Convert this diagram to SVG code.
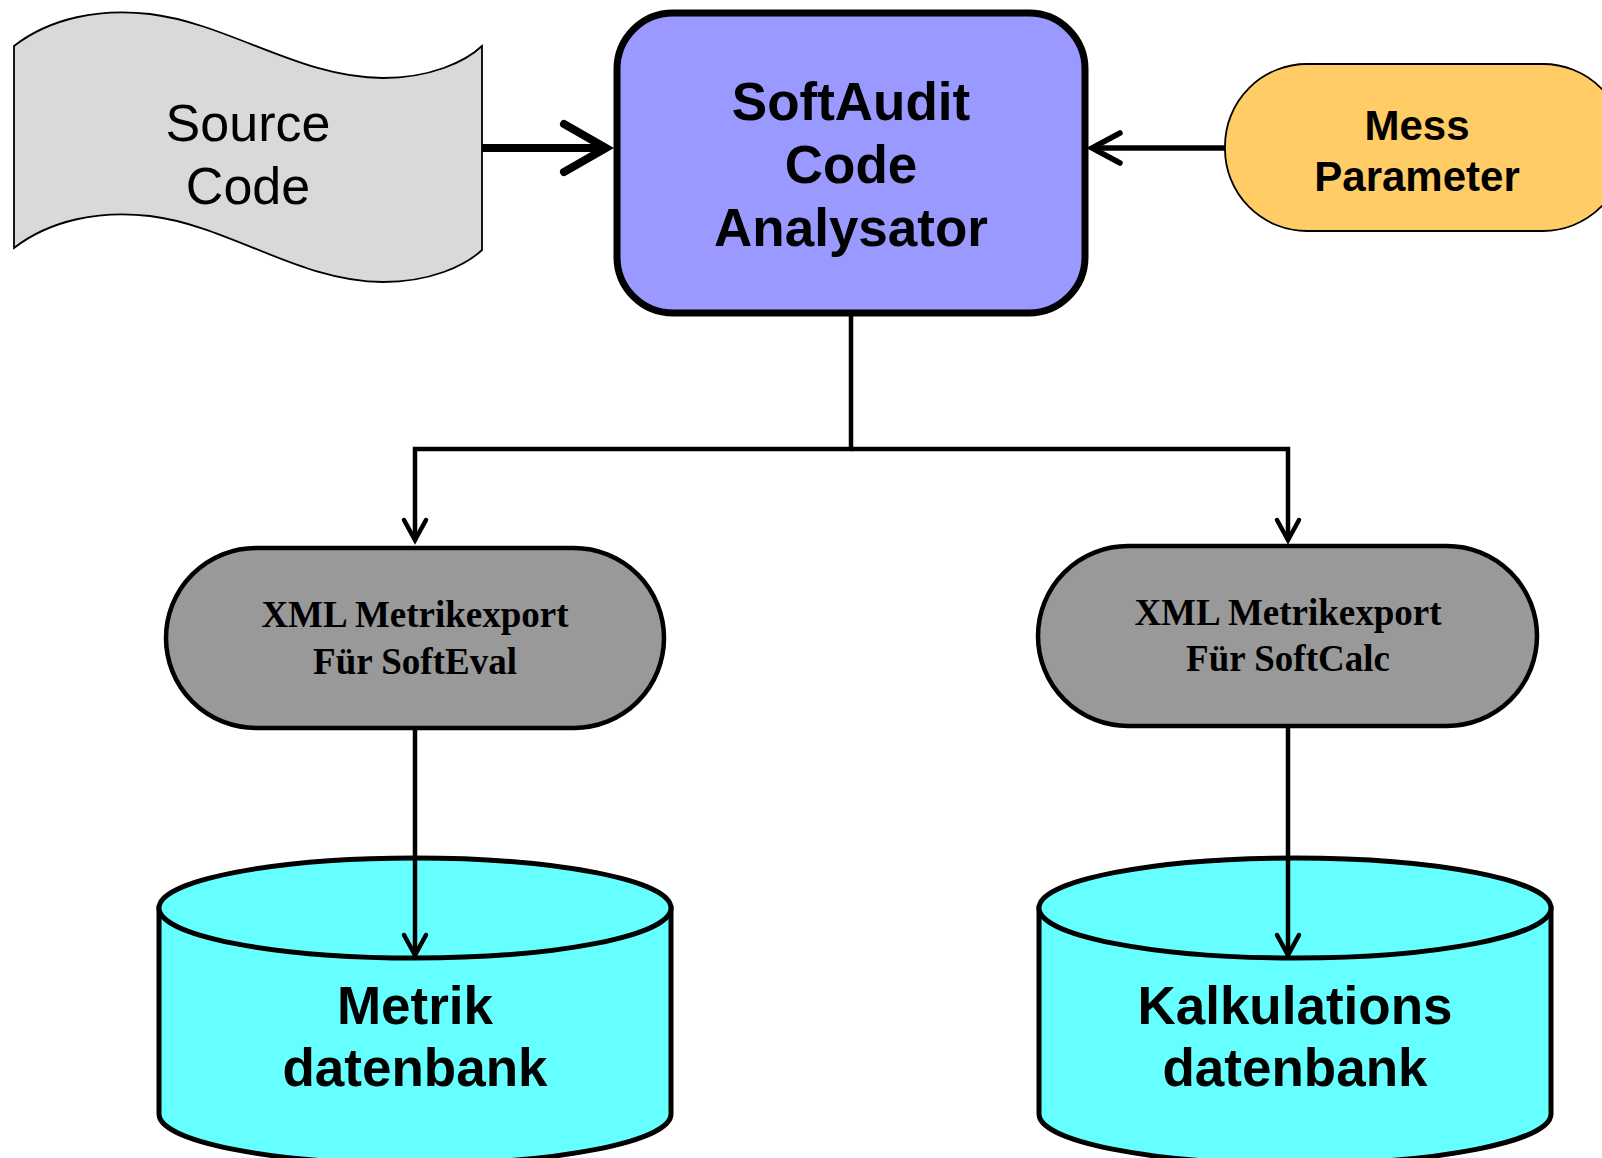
<svg xmlns="http://www.w3.org/2000/svg" width="1602" height="1158" viewBox="0 0 1602 1158">
<style>
.sans{font-family:"Liberation Sans",Arial,sans-serif;text-anchor:middle;fill:#000}
.serif{font-family:"Liberation Serif","Times New Roman",serif;text-anchor:middle;font-weight:bold;fill:#000;font-size:37px}
.b{font-weight:bold}
.conn{fill:none;stroke:#000;stroke-linecap:butt}
.cyl{fill:#66FFFF;stroke:#000;stroke-width:5}
.pill{fill:#999999;stroke:#000;stroke-width:4.5}
</style>
<defs>
<marker id="bigArrow" markerUnits="userSpaceOnUse" orient="auto" markerWidth="10" markerHeight="10" refX="0" refY="0" overflow="visible">
<path d="M-42,-24 L0,0 L-42,24" fill="none" stroke="#000" stroke-width="8" stroke-linecap="round" stroke-linejoin="miter"/>
</marker>
<marker id="midArrow" markerUnits="userSpaceOnUse" orient="auto" markerWidth="10" markerHeight="10" refX="0" refY="0" overflow="visible">
<path d="M-28,-15 L0,0 L-28,15" fill="none" stroke="#000" stroke-width="5.5" stroke-linecap="round"/>
</marker>
<marker id="smallArrow" markerUnits="userSpaceOnUse" orient="auto" markerWidth="10" markerHeight="10" refX="0" refY="0" overflow="visible">
<path d="M-20,-11 L0,0 L-20,11" fill="none" stroke="#000" stroke-width="4.5" stroke-linecap="round"/>
</marker>
</defs>
<rect width="1602" height="1158" fill="#fff"/>

<g id="source-code">
<path d="M14,46 C50,18 100,8 150,14 C230,24 300,78 383,78 C430,78 465,62 482,46 L482,250 C465,266 430,282 383,282 C300,282 230,226 150,216 C100,210 50,220 14,248 Z" fill="#D9D9D9" stroke="#000" stroke-width="1.8"/>
<text class="sans" x="248" y="141" font-size="52">Source</text>
<text class="sans" x="248" y="204" font-size="52">Code</text>
</g>

<g id="analysator">
<rect x="617" y="13" width="468" height="300" rx="56" ry="56" fill="#9999FF" stroke="#000" stroke-width="7"/>
<text class="sans b" x="851" y="120" font-size="53">SoftAudit</text>
<text class="sans b" x="851" y="183" font-size="53">Code</text>
<text class="sans b" x="851" y="246" font-size="53">Analysator</text>
</g>

<g id="mess-parameter">
<rect x="1225" y="64" width="400" height="167" rx="82" ry="82" fill="#FFCC66" stroke="#000" stroke-width="1.8"/>
<text class="sans b" x="1417" y="140" font-size="42">Mess</text>
<text class="sans b" x="1417" y="191" font-size="42">Parameter</text>
</g>

<g id="export-softeval">
<rect x="166" y="548" width="498" height="180" rx="90" ry="90" class="pill"/>
<text class="serif" x="415" y="627">XML Metrikexport</text>
<text class="serif" x="415" y="674">Für SoftEval</text>
</g>

<g id="export-softcalc">
<rect x="1038" y="546" width="499" height="180" rx="90" ry="90" class="pill"/>
<text class="serif" x="1288" y="625">XML Metrikexport</text>
<text class="serif" x="1288" y="671">Für SoftCalc</text>
</g>

<g id="metrik-db">
<path class="cyl" d="M159,908 L159,1114 A256,50 0 0 0 671,1114 L671,908 Z"/>
<ellipse class="cyl" cx="415" cy="908" rx="256" ry="50"/>
<text class="sans b" x="415" y="1024" font-size="53">Metrik</text>
<text class="sans b" x="415" y="1086" font-size="53">datenbank</text>
</g>

<g id="kalkulations-db">
<path class="cyl" d="M1039,908 L1039,1114 A256,50 0 0 0 1551,1114 L1551,908 Z"/>
<ellipse class="cyl" cx="1295" cy="908" rx="256" ry="50"/>
<text class="sans b" x="1295" y="1024" font-size="53">Kalkulations</text>
<text class="sans b" x="1295" y="1086" font-size="53">datenbank</text>
</g>

<g id="connectors">
<path class="conn" d="M482,148 H606" stroke-width="8" marker-end="url(#bigArrow)"/>
<path class="conn" d="M1225,148 H1092" stroke-width="5.5" marker-end="url(#midArrow)"/>
<path class="conn" d="M851,316 V449 H415 V540" stroke-width="4.5" stroke-linejoin="miter" marker-end="url(#smallArrow)"/>
<path class="conn" d="M851,449 H1288 V540" stroke-width="4.5" stroke-linejoin="miter" marker-end="url(#smallArrow)"/>
<path class="conn" d="M415,728 V955" stroke-width="4.5" marker-end="url(#smallArrow)"/>
<path class="conn" d="M1288,726 V955" stroke-width="4.5" marker-end="url(#smallArrow)"/>
</g>
</svg>
